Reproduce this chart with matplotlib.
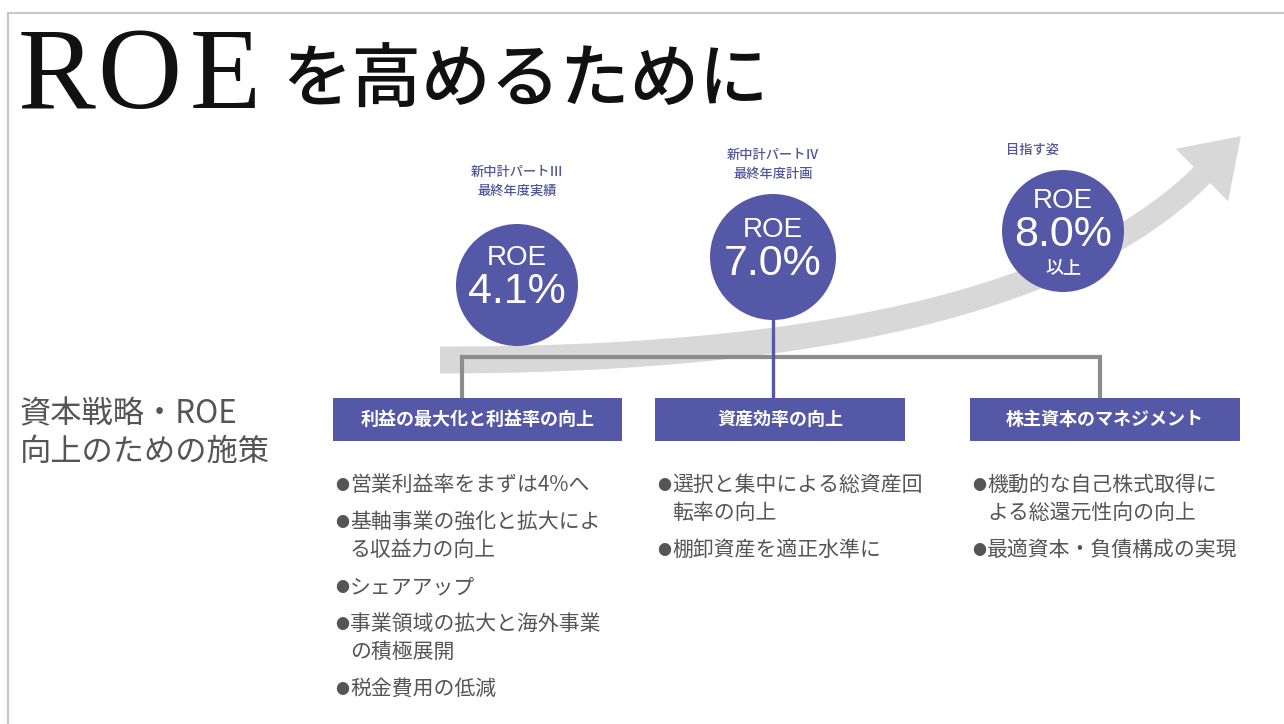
import numpy as np
import matplotlib.pyplot as plt
from matplotlib.patches import Circle, Rectangle, Polygon

plt.rcParams['font.family'] = ['Noto Sans CJK JP', 'DejaVu Sans']

# --- data ---
title_latin = "ROE"
title_jp = "を高めるために"
side_label = ["資本戦略・ROE", "向上のための施策"]

stage_labels = [["新中計パートⅢ", "最終年度実績"],
                ["新中計パートⅣ", "最終年度計画"],
                ["目指す姿"]]
roe_values = [4.1, 7.0, 8.0]
roe_suffix = ["", "", "以上"]

measures = ["利益の最大化と利益率の向上", "資産効率の向上", "株主資本のマネジメント"]
bullets = [
    [["営業利益率をまずは4%へ"],
     ["基軸事業の強化と拡大によ", "る収益力の向上"],
     ["シェアアップ"],
     ["事業領域の拡大と海外事業", "の積極展開"],
     ["税金費用の低減"]],
    [["選択と集中による総資産回", "転率の向上"],
     ["棚卸資産を適正水準に"]],
    [["機動的な自己株式取得に", "よる総還元性向の向上"],
     ["最適資本・負債構成の実現"]],
]

# --- layout (pixel space) ---
blue = '#5558a6'
circle_xy = [(517, 285), (773, 257), (1063, 231)]
circle_r = [61, 63, 61]
label_y = [172, 155, 150]
label_x = [517, 773, 1033]
box_x = [(333, 622), (655, 905), (970, 1240)]
box_y = (398, 441)

fig = plt.figure(figsize=(12.84, 7.24), dpi=100)
ax = fig.add_axes([0, 0, 1, 1])
ax.set_xlim(0, 1284)
ax.set_ylim(724, 0)
ax.axis('off')

# frame lines
ax.plot([8, 1284], [13, 13], color='#c8c8c8', lw=1.5)
ax.plot([8, 8], [13, 724], color='#c8c8c8', lw=1.5)

# title
for ch, x in zip(title_latin, [18, 97, 190]):
    ax.text(x, 80, ch, fontsize=84, family='Liberation Serif',
            va='center', ha='left', color='#111111')
ax.text(282, 82, title_jp, fontsize=50, va='center', ha='left',
        color='#111111', weight='medium')

# side label
for i, s in enumerate(side_label):
    ax.text(20, 414 + i * 38, s, fontsize=22.5, color='#555555', va='center')

# curved gray arrow
P0 = np.array([440.0, 360.0])
P1 = np.array([1017.0, 360.0])
P2 = np.array([1202.0, 175.0])
t = np.linspace(0, 1, 120)[:, None]
c = (1 - t) ** 2 * P0 + 2 * (1 - t) * t * P1 + t ** 2 * P2
d = 2 * (1 - t) * (P1 - P0) + 2 * t * (P2 - P1)
d = d / np.linalg.norm(d, axis=1, keepdims=True)
n = np.column_stack([-d[:, 1], d[:, 0]])
w = (27 - 4 * t[:, 0])[:, None] / 2
left = c + n * w
right = c - n * w
tip_dir = d[-1]
tip_n = n[-1]
head = [P2 + tip_n * 37, P2 + tip_dir * 55, P2 - tip_n * 37]
poly = np.vstack([left, head, right[::-1]])
ax.add_patch(Polygon(poly, closed=True, facecolor='#d8d8d8', edgecolor='none', zorder=1))

# gray connector
ax.plot([462, 1100], [357, 357], color='#8c8c8c', lw=3, zorder=2, solid_capstyle='butt')
ax.plot([462, 462], [357, box_y[0]], color='#8c8c8c', lw=3, zorder=2)
ax.plot([1100, 1100], [357, box_y[0]], color='#8c8c8c', lw=3, zorder=2)
# blue connector from middle circle
ax.plot([773, 773], [circle_xy[1][1] + circle_r[1], box_y[0]], color=blue, lw=2.4, zorder=2)

# circles
for i, (xy, r) in enumerate(zip(circle_xy, circle_r)):
    ax.add_patch(Circle(xy, r, facecolor=blue, edgecolor='none', zorder=3))
    lab = stage_labels[i]
    top = label_y[i]
    for j, s in enumerate(lab):
        ax.text(label_x[i], top + j * 19, s, fontsize=9.5, color='#4f5597', ha='center',
                va='center', zorder=4, weight='medium')
    off = -30 if roe_suffix[i] else -27
    ax.text(xy[0], xy[1] + off, "ROE", fontsize=20, color='white', ha='center',
            va='center', family='Liberation Sans', zorder=4)
    ax.text(xy[0], xy[1] + off + 34, f"{roe_values[i]:.1f}%", fontsize=31,
            color='white', ha='center', va='center', family='Liberation Sans', zorder=4)
    if roe_suffix[i]:
        ax.text(xy[0], xy[1] + 37, roe_suffix[i], fontsize=13, color='white',
                ha='center', va='center', zorder=4, weight='medium')

# measure boxes and bullet lists
for i, (x0, x1) in enumerate(box_x):
    ax.add_patch(Rectangle((x0, box_y[0]), x1 - x0, box_y[1] - box_y[0],
                           facecolor=blue, edgecolor='none', zorder=3))
    ax.text((x0 + x1) / 2, (box_y[0] + box_y[1]) / 2, measures[i], fontsize=13,
            color='white', ha='center', va='center', weight='bold', zorder=4)
    y = 485
    for item in bullets[i]:
        ax.text(x0 + 2, y + 1, "●", fontsize=10, color='#555555', ha='left', va='center')
        for line in item:
            ax.text(x0 + 17, y, line, fontsize=15, color='#555555',
                    ha='left', va='center')
            y += 28
        y += 9

fig.savefig('out.png', dpi=100)
